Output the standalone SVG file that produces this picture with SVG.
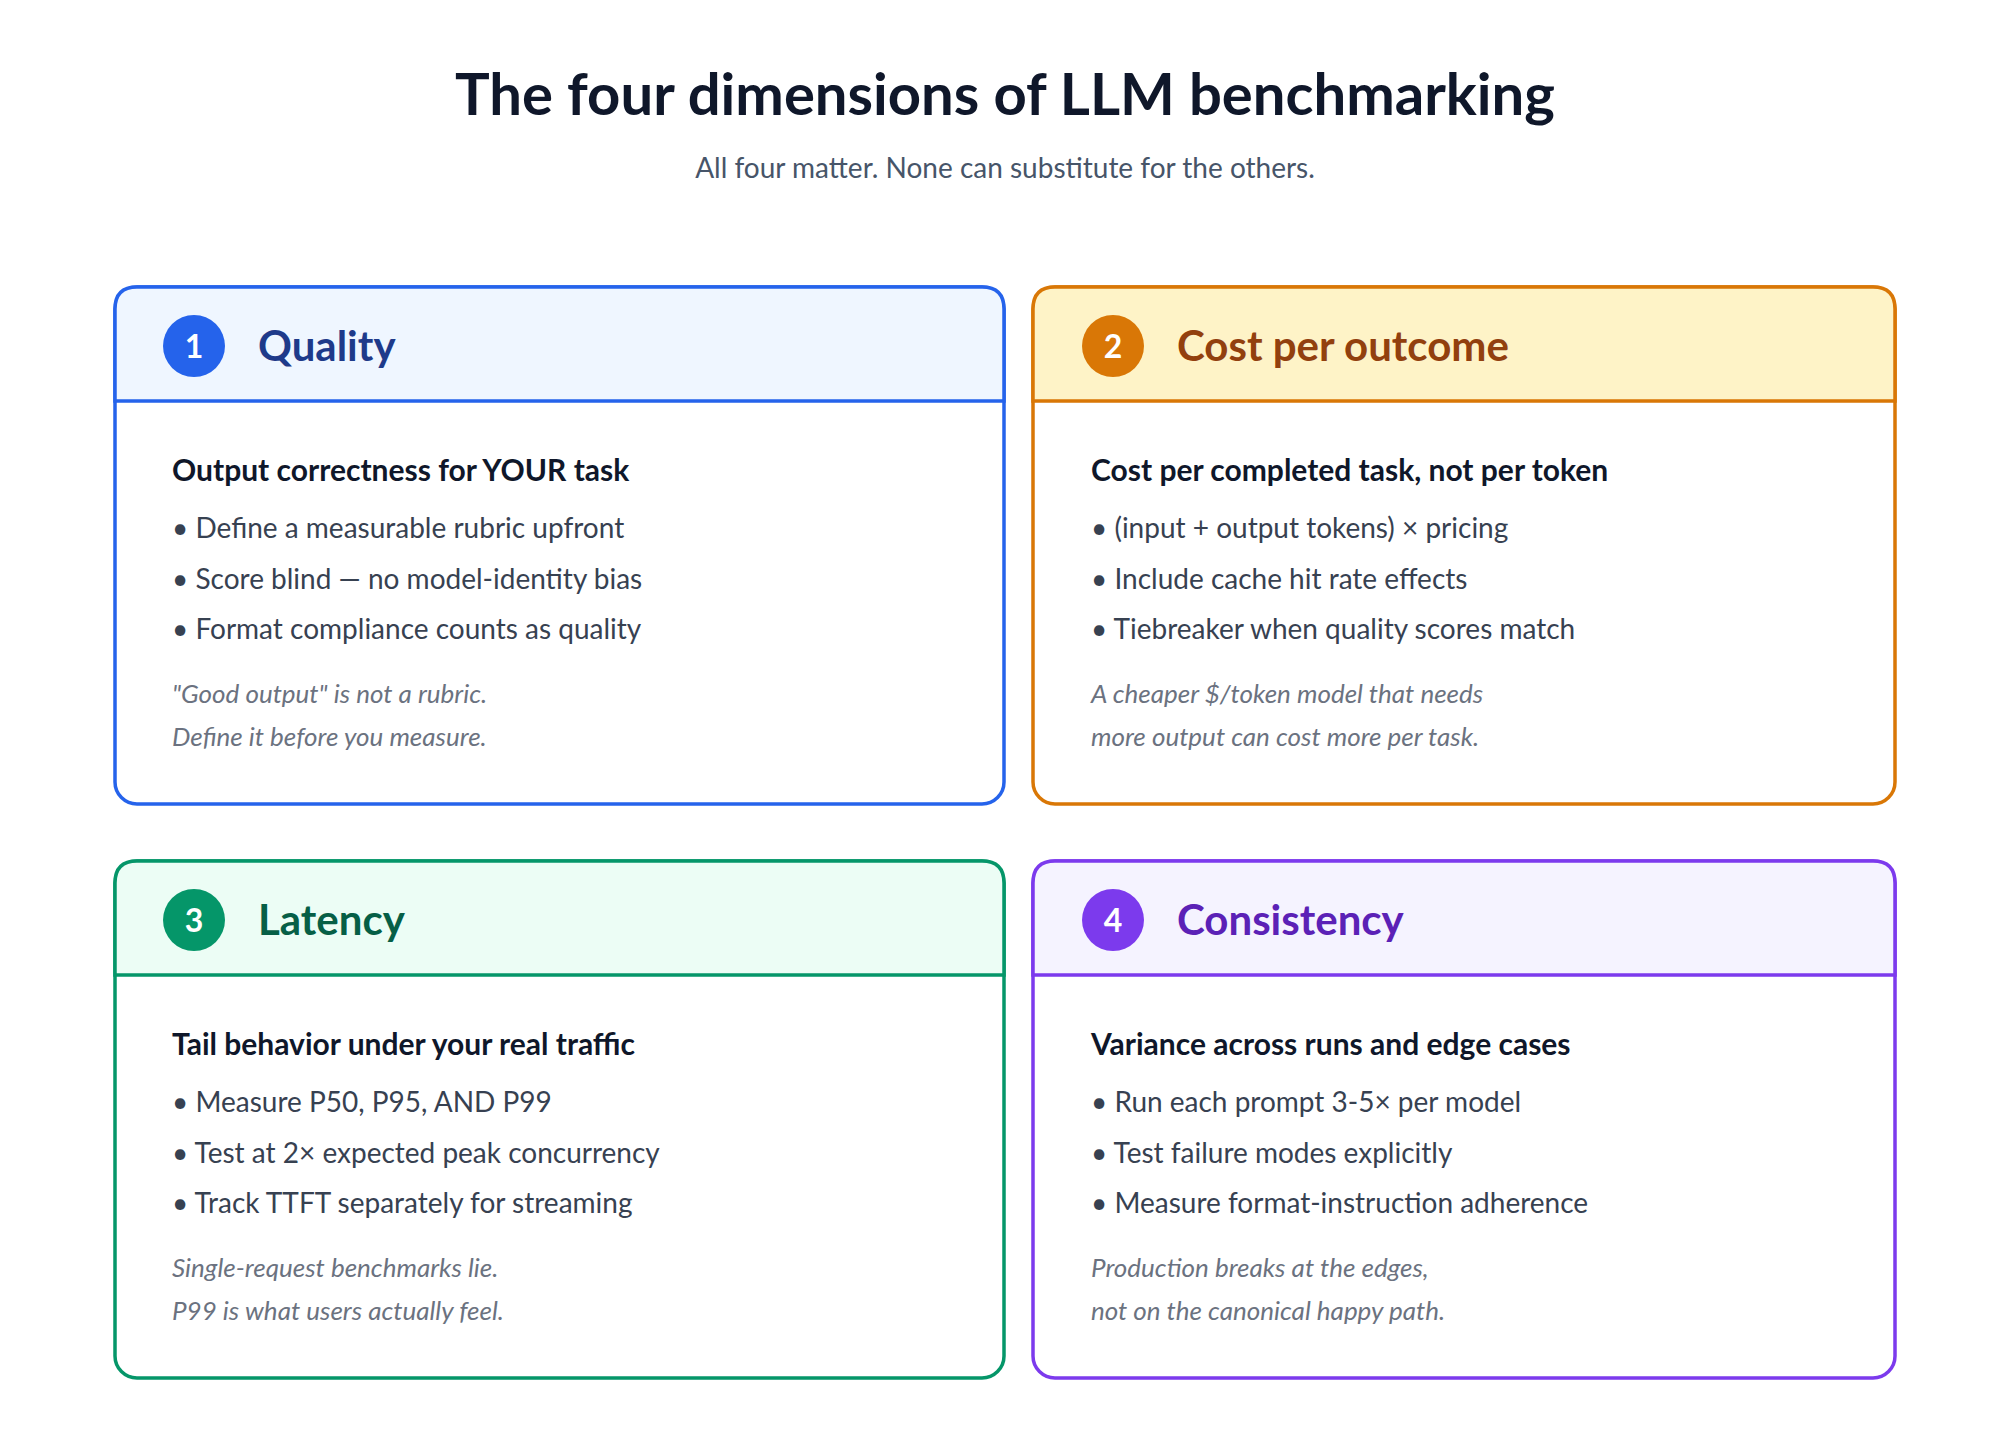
<svg xmlns="http://www.w3.org/2000/svg" width="2000" height="1429" viewBox="0 0 2000 1429">
<style>
text{font-family:Lato,"Liberation Sans",sans-serif}
.t{font-size:58px;font-weight:700;fill:#0f172a;text-anchor:middle}
.s{font-size:28px;fill:#475569;text-anchor:middle}
.h{font-size:42px;font-weight:700}
.n{font-size:32px;font-weight:700;fill:#fff;text-anchor:middle}
.sub{font-size:30px;font-weight:700;fill:#0f172a}
.b{font-size:28px;fill:#374151}
.i{font-size:26px;font-style:italic;fill:#6b7280}
.card{fill:#fff;stroke-width:3.5}
</style>
<rect width="2000" height="1429" fill="#fff"/>
<text class="t" x="1005" y="115">The four dimensions of LLM benchmarking</text>
<text class="s" x="1005" y="178">All four matter. None can substitute for the others.</text>
<g id="quality">
<rect class="card" x="115" y="287" width="889" height="517" rx="22" stroke="#2563eb"/>
<path d="M115 401 V309 Q115 287 137 287 H982 Q1004 287 1004 309 V401 Z" fill="#eff6ff" stroke="#2563eb" stroke-width="3.5"/>
<circle cx="194" cy="346" r="31" fill="#2563eb"/><text class="n" x="194" y="358">1</text>
<text class="h" x="258" y="361" fill="#1e3a8a">Quality</text>
<text class="sub" x="172" y="481">Output correctness for YOUR task</text>
<text class="b" x="172" y="538">• Define a measurable rubric upfront</text>
<text class="b" x="172" y="589">• Score blind — no model-identity bias</text>
<text class="b" x="172" y="639">• Format compliance counts as quality</text>
<text class="i" x="172" y="703">"Good output" is not a rubric.</text>
<text class="i" x="172" y="746">Define it before you measure.</text>
</g>
<g id="cost">
<rect class="card" x="1033" y="287" width="862" height="517" rx="22" stroke="#d97706"/>
<path d="M1033 401 V309 Q1033 287 1055 287 H1873 Q1895 287 1895 309 V401 Z" fill="#fef3c7" stroke="#d97706" stroke-width="3.5"/>
<circle cx="1113" cy="346" r="31" fill="#d97706"/><text class="n" x="1113" y="358">2</text>
<text class="h" x="1177" y="361" fill="#92400e">Cost per outcome</text>
<text class="sub" x="1091" y="481">Cost per completed task, not per token</text>
<text class="b" x="1091" y="538">• (input + output tokens) × pricing</text>
<text class="b" x="1091" y="589">• Include cache hit rate effects</text>
<text class="b" x="1091" y="639">• Tiebreaker when quality scores match</text>
<text class="i" x="1091" y="703">A cheaper $/token model that needs</text>
<text class="i" x="1091" y="746">more output can cost more per task.</text>
</g>
<g id="latency">
<rect class="card" x="115" y="861" width="889" height="517" rx="22" stroke="#059669"/>
<path d="M115 975 V883 Q115 861 137 861 H982 Q1004 861 1004 883 V975 Z" fill="#ecfdf5" stroke="#059669" stroke-width="3.5"/>
<circle cx="194" cy="920" r="31" fill="#059669"/><text class="n" x="194" y="932">3</text>
<text class="h" x="258" y="935" fill="#065f46">Latency</text>
<text class="sub" x="172" y="1055">Tail behavior under your real traffic</text>
<text class="b" x="172" y="1112">• Measure P50, P95, AND P99</text>
<text class="b" x="172" y="1163">• Test at 2× expected peak concurrency</text>
<text class="b" x="172" y="1213">• Track TTFT separately for streaming</text>
<text class="i" x="172" y="1277">Single-request benchmarks lie.</text>
<text class="i" x="172" y="1320">P99 is what users actually feel.</text>
</g>
<g id="consistency">
<rect class="card" x="1033" y="861" width="862" height="517" rx="22" stroke="#7c3aed"/>
<path d="M1033 975 V883 Q1033 861 1055 861 H1873 Q1895 861 1895 883 V975 Z" fill="#f5f3ff" stroke="#7c3aed" stroke-width="3.5"/>
<circle cx="1113" cy="920" r="31" fill="#7c3aed"/><text class="n" x="1113" y="932">4</text>
<text class="h" x="1177" y="935" fill="#5b21b6">Consistency</text>
<text class="sub" x="1091" y="1055">Variance across runs and edge cases</text>
<text class="b" x="1091" y="1112">• Run each prompt 3-5× per model</text>
<text class="b" x="1091" y="1163">• Test failure modes explicitly</text>
<text class="b" x="1091" y="1213">• Measure format-instruction adherence</text>
<text class="i" x="1091" y="1277">Production breaks at the edges,</text>
<text class="i" x="1091" y="1320">not on the canonical happy path.</text>
</g>
<g id="connectors"/>
</svg>
